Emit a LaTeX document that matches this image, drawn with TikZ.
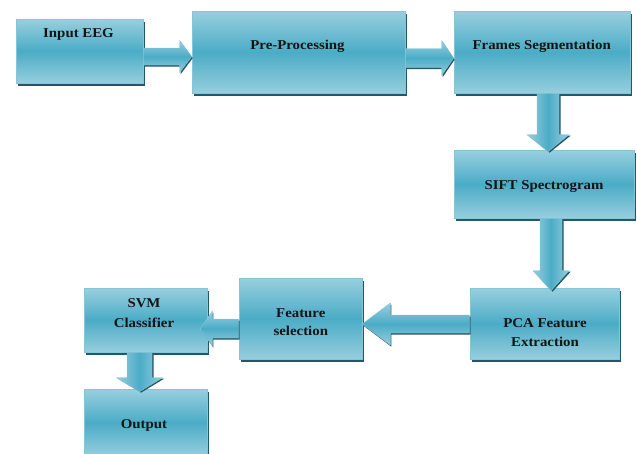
\documentclass[tikz,border=0pt]{standalone}
\usepackage{fontspec}
\setmainfont{Liberation Serif}[FakeStretch=1.1]
\usetikzlibrary{calc,shadows}

\definecolor{cTop}{HTML}{98CFDF}
\definecolor{cMid}{HTML}{4BACC6}
\definecolor{cBot}{HTML}{96CEDE}
\definecolor{cEdge}{HTML}{86C5D7}
\definecolor{cShadow}{HTML}{22596A}
\definecolor{cText}{HTML}{141414}

% horizontal arrow pointing right: start, tip, shaft half width, head half width, head length
\newcommand\flowR[5]{%
  \path[harrow] ($(#1)+(0,-#3)$) -- ($(#2)+(-#5,-#3)$) -- ($(#2)+(-#5,-#4)$) -- (#2)
    -- ($(#2)+(-#5,#4)$) -- ($(#2)+(-#5,#3)$) -- ($(#1)+(0,#3)$) -- cycle;}
% horizontal arrow pointing left
\newcommand\flowL[5]{%
  \path[harrow] ($(#1)+(0,-#3)$) -- ($(#2)+(#5,-#3)$) -- ($(#2)+(#5,-#4)$) -- (#2)
    -- ($(#2)+(#5,#4)$) -- ($(#2)+(#5,#3)$) -- ($(#1)+(0,#3)$) -- cycle;}
% vertical arrow pointing down
\newcommand\flowD[5]{%
  \path[varrow] ($(#1)+(-#3,0)$) -- ($(#2)+(-#3,-#5)$) -- ($(#2)+(-#4,-#5)$) -- (#2)
    -- ($(#2)+(#4,-#5)$) -- ($(#2)+(#3,-#5)$) -- ($(#1)+(#3,0)$) -- cycle;}

\tikzset{
  box/.style={draw=cEdge, line width=0.6pt, inner sep=0pt,
    top color=cTop, bottom color=cBot, middle color=cMid,
    drop shadow={shadow xshift=2.2pt, shadow yshift=-2.6pt, fill=cShadow, opacity=1}},
  harrow/.style={draw=cEdge, line width=0.4pt,
    top color=cTop, bottom color=cBot, middle color=cMid,
    drop shadow={shadow xshift=1pt, shadow yshift=-1.6pt, fill=cShadow, opacity=1}},
  varrow/.style={draw=cEdge, line width=0.4pt,
    left color=cTop, right color=cBot, middle color=cMid,
    drop shadow={shadow xshift=1.6pt, shadow yshift=-1pt, fill=cShadow, opacity=1}},
  lbl/.style={anchor=base, inner sep=0pt, text=cText, font=\fontsize{13.5}{16}\selectfont\bfseries},
}

\begin{document}
\begin{tikzpicture}[x=1pt,y=-1pt]
\useasboundingbox (0,0) rectangle (637,453);

% process boxes
\node[box, minimum width=127pt, minimum height=64pt] (inp)  at (79.5,51)    {};
\node[box, minimum width=213pt, minimum height=82pt] (pre)  at (298.5,52)   {};
\node[box, minimum width=176pt, minimum height=82pt] (fs)   at (542,52)     {};
\node[box, minimum width=180pt, minimum height=68pt] (sift) at (544,184)    {};
\node[box, minimum width=149pt, minimum height=71pt] (pca)  at (544.5,323.5){};
\node[box, minimum width=123pt, minimum height=81pt] (fsel) at (300.5,318.5){};
\node[box, minimum width=123pt, minimum height=64pt] (svm)  at (145.5,320)  {};
\node[box, minimum width=123pt, minimum height=67pt] (out)  at (145.5,422.5){};

% block arrows between the boxes
\coordinate (a1s) at ($(inp.east)+(0,5.5)$);
\coordinate (a1e) at (pre.west |- a1s);
\flowR{a1s}{a1e}{8.5}{16}{12}

\coordinate (a2s) at ($(pre.east)+(0,6)$);
\coordinate (a2e) at (fs.west |- a2s);
\flowR{a2s}{a2e}{9.5}{17.5}{12}

\coordinate (a3s) at ($(fs.south)+(6,0)$);
\coordinate (a3e) at ($(a3s |- sift.north)+(0,2)$);
\flowD{a3s}{a3e}{11}{21}{17}

\coordinate (a4s) at ($(sift.south)+(7,0)$);
\coordinate (a4e) at ($(a4s |- pca.north)+(0,3)$);
\flowD{a4s}{a4e}{11}{18}{20}

\coordinate (a5s) at ($(pca.west)+(0,0.5)$);
\coordinate (a5e) at (fsel.east |- a5s);
\flowL{a5s}{a5e}{9}{21}{28}

\coordinate (a6s) at ($(fsel.west)+(0,10)$);
\coordinate (a6e) at ($(svm.east |- a6s)+(-7,0)$);
\flowL{a6s}{a6e}{9.5}{17.5}{12}

\coordinate (a7s) at ($(svm.south)+(-6,0)$);
\coordinate (a7e) at ($(a7s |- out.north)+(0,3)$);
\flowD{a7s}{a7e}{12.5}{23}{14}

% labels
\node[lbl] (tinp)  at (78.5,37)  {Input EEG};
\node[lbl] (tpre)  at (297.5,49) {Pre-Processing};
\node[lbl] (tfs)   at (541.7,49) {Frames Segmentation};
\node[lbl] (tsift) at (544,189)  {SIFT Spectrogram};
\node[lbl] (tpca1) at (545,327)  {PCA Feature};
\node[lbl] (tpca2) at (545,346)  {Extraction};
\node[lbl] (tfs1)  at (300.8,317){Feature};
\node[lbl] (tfs2)  at (300.8,335){selection};
\node[lbl] (tsvm1) at (144,307)  {SVM};
\node[lbl] (tsvm2) at (144,327)  {Classifier};
\node[lbl] (tout)  at (144,428)  {Output};
\end{tikzpicture}
\end{document}
